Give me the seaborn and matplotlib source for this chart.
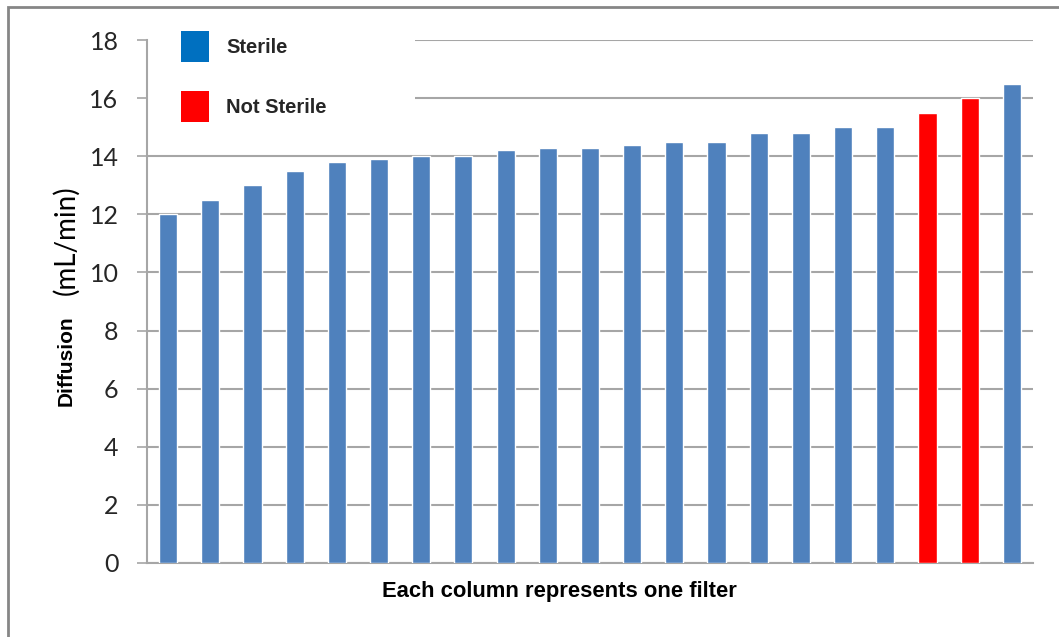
import numpy as np
import pandas as pd
import matplotlib.pyplot as plt
import seaborn as sns
from matplotlib.patches import Patch, Rectangle

# Diffusion values, one per filter
filters = [str(i) for i in range(1, 22)]
diffusion = [12.0, 12.5, 13.0, 13.5, 13.8, 13.9, 14.0, 14.0, 14.2, 14.3, 14.3,
             14.4, 14.5, 14.5, 14.8, 14.8, 15.0, 15.0, 15.5, 16.0, 16.5]
status = ['Sterile'] * 18 + ['Not Sterile'] * 2 + ['Sterile']

bar_colors = {'Sterile': '#4F81BD', 'Not Sterile': '#FF0000'}
legend_colors = {'Sterile': '#0070C0', 'Not Sterile': '#FF0000'}

df = pd.DataFrame({'filter': filters, 'diffusion': diffusion, 'status': status})

sns.set_style('white')
plt.rcParams['font.family'] = ['Liberation Sans', 'DejaVu Sans']

W, H = 1059, 637
fig = plt.figure(figsize=(W / 100, H / 100), dpi=100)
ax = fig.add_axes([0.1388, 0.1162, 0.8366, 0.821])

sns.barplot(data=df, x='filter', y='diffusion', hue='status', palette=bar_colors,
            dodge=False, width=0.43, saturation=1, legend=False, ax=ax, zorder=3)

ax.set_ylim(0, 18)
ax.set_xlim(-0.5, 20.5)
ax.set_yticks(np.arange(0, 19, 2))
ax.set_yticklabels([str(v) for v in range(0, 19, 2)], fontsize=18, family='Lato', color='#262626')
ax.set_xticks([])
ax.yaxis.grid(True, color='#A6A6A6', linewidth=1.5, zorder=0)
ax.set_axisbelow(True)
ax.tick_params(axis='y', left=True, length=7.5, width=1.2, color='#A6A6A6', pad=13)

for side in ['top', 'right']:
    ax.spines[side].set_visible(False)
for side in ['left', 'bottom']:
    ax.spines[side].set_color('#A6A6A6')
    ax.spines[side].set_linewidth(1.5)

ax.set_xlabel('Each column represents one filter', fontsize=15.8, fontweight='bold', color='black')
ax.xaxis.set_label_coords(0.466, -0.035)
ax.xaxis.label.set_verticalalignment('top')
ax.set_ylabel('')

# y label in two pieces: bold word + unit in a different face
fig.text(66 / W, 1 - 361 / H, 'Diffusion', rotation=90, ha='center', va='center',
         fontsize=15, fontweight='bold', color='black')
fig.text(66 / W, 1 - 240 / H, '(mL/min)', rotation=90, ha='center', va='center',
         fontsize=20, family='Lato', color='black')

# white block behind the legend that hides the top gridlines
ax.add_patch(Rectangle((147 / W, 1 - 130 / H), 268 / W, 100 / H, transform=fig.transFigure,
                       facecolor='white', edgecolor='none', zorder=1))

handles = [Patch(facecolor=legend_colors[k], edgecolor='none', label=k) for k in ['Sterile', 'Not Sterile']]
leg = fig.legend(handles=handles, loc='upper left', bbox_to_anchor=(179 / W, 1 - 29 / H),
                 bbox_transform=fig.transFigure, frameon=False, borderaxespad=0, borderpad=0.1,
                 prop={'weight': 'bold', 'size': 14.5}, handlelength=1.4, handleheight=2.0,
                 labelspacing=1.45, handletextpad=0.85)

# outer chart border
fig.patches.append(Rectangle((0.0075, -0.02), 1.05, 1.009, transform=fig.transFigure,
                             fill=False, edgecolor='#868686', linewidth=2))

fig.savefig('out.png', dpi=100)
